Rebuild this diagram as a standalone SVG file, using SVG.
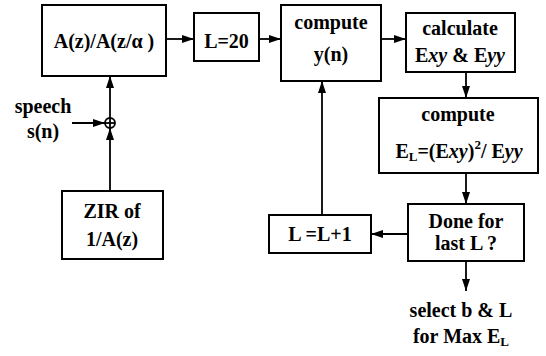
<svg xmlns="http://www.w3.org/2000/svg" width="546" height="356" viewBox="0 0 546 356">
<style>
.box{fill:#fff;stroke:#000;stroke-width:2}
.ln{fill:none;stroke:#000;stroke-width:1.8}
text{font-family:"Liberation Serif","Times New Roman",serif;font-weight:bold;font-size:20px;fill:#000;text-anchor:middle}
.it{font-style:italic}
.sub{font-size:13px}
</style>
<defs>
<marker id="ah" viewBox="0 0 12 8" refX="12" refY="4" markerWidth="12" markerHeight="8" markerUnits="userSpaceOnUse" orient="auto">
<path d="M0,0 L12,4 L0,8 Z" fill="#000"/>
</marker>
</defs>
<rect width="546" height="356" fill="#fff"/>
<g id="connectors">
<line class="ln" x1="166" y1="39" x2="194" y2="39" marker-end="url(#ah)"/>
<line class="ln" x1="259" y1="39" x2="281" y2="39" marker-end="url(#ah)"/>
<line class="ln" x1="381" y1="39" x2="406" y2="39" marker-end="url(#ah)"/>
<line class="ln" x1="466" y1="72" x2="466" y2="98" marker-end="url(#ah)"/>
<line class="ln" x1="466" y1="173" x2="466" y2="204" marker-end="url(#ah)"/>
<line class="ln" x1="408" y1="234" x2="371" y2="234" marker-end="url(#ah)"/>
<line class="ln" x1="322" y1="215" x2="322" y2="81" marker-end="url(#ah)"/>
<line class="ln" x1="466" y1="261" x2="466" y2="291" marker-end="url(#ah)"/>
<line class="ln" x1="110" y1="191" x2="110" y2="128" marker-end="url(#ah)"/>
<line class="ln" x1="110" y1="118" x2="110" y2="76" marker-end="url(#ah)"/>
<line class="ln" x1="72" y1="123" x2="105" y2="123" marker-end="url(#ah)"/>
</g>
<g id="sum">
<circle cx="110" cy="123" r="5" fill="#fff" stroke="#000" stroke-width="1.8"/>
<line class="ln" x1="105" y1="123" x2="115" y2="123"/>
<line class="ln" x1="110" y1="118" x2="110" y2="128"/>
</g>
<g id="input">
<text x="43" y="113">speech</text>
<text x="43" y="138">s(n)</text>
</g>
<g id="prefilter">
<rect class="box" x="42" y="5" width="124" height="71"/>
<text x="104" y="48">A(z)/A(z/α )</text>
</g>
<g id="l20">
<rect class="box" x="194" y="13" width="65" height="48"/>
<text x="226.5" y="48">L=20</text>
</g>
<g id="computey">
<rect class="box" x="281" y="5" width="100" height="76"/>
<text x="331" y="29">compute</text>
<text x="331" y="61">y(n)</text>
</g>
<g id="calc">
<rect class="box" x="406" y="13" width="109" height="59"/>
<text x="460" y="35">calculate</text>
<text x="460" y="62">E<tspan class="it">xy</tspan> &amp; E<tspan class="it">yy</tspan></text>
</g>
<g id="computeEL">
<rect class="box" x="379" y="98" width="159" height="75"/>
<text x="458" y="121">compute</text>
<text x="459" y="158">E<tspan class="sub" dy="3">L</tspan><tspan dy="-3">=(E</tspan><tspan class="it">xy</tspan>)<tspan class="sub" dy="-9">2</tspan><tspan dy="9">/ E</tspan><tspan class="it">yy</tspan></text>
</g>
<g id="zir">
<rect class="box" x="62" y="191" width="101" height="68"/>
<text x="112" y="218">ZIR of</text>
<text x="112" y="246">1/A(z)</text>
</g>
<g id="inc">
<rect class="box" x="269" y="215" width="102" height="38"/>
<text x="320" y="241">L =L+1</text>
</g>
<g id="done">
<rect class="box" x="408" y="204" width="116" height="57"/>
<text x="466" y="228">Done for</text>
<text x="466" y="250">last L ?</text>
</g>
<g id="output">
<text x="461" y="317">select  b   &amp;  L</text>
<text x="461" y="343">for Max E<tspan class="sub" dy="3">L</tspan></text>
</g>
</svg>
